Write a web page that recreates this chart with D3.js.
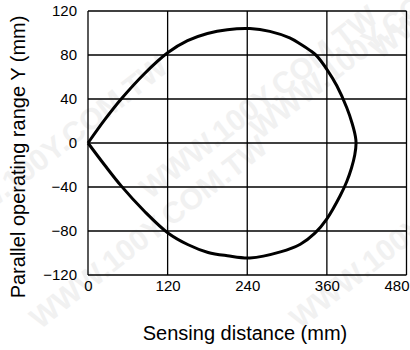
<!DOCTYPE html>
<html>
<head>
<meta charset="utf-8">
<script src="https://cdn.jsdelivr.net/npm/d3@7"></script>
<style>
  html, body { margin: 0; padding: 0; background: #fff; }
  svg { display: block; }
  text { font-family: "Liberation Sans", Arial, Helvetica, sans-serif; }
</style>
</head>
<body>
<svg id="chart" width="410" height="350"></svg>
<script>
// Sensing area boundary: upper half (distance mm, lateral Y mm)
const upperX = [0, 25, 50, 85, 120, 150, 180, 210, 244, 274, 304, 320, 335, 345, 360, 375, 390, 398, 403, 404];
const upperY = [0, 21, 40, 63, 82, 93, 99.5, 103, 104, 101.5, 95.5, 90, 84, 79, 67, 52, 32, 18, 6, 0];
// lower half, continuing from the far tip back to the origin
const lowerX = [404, 402, 397, 390, 380, 360, 342, 320, 290, 244, 210, 181, 151, 121, 85, 50, 25, 0];
const lowerY = [0, -11, -23, -35, -48, -69, -82, -92, -99, -104.5, -102.5, -99.5, -92.5, -82, -62, -39, -20, 0];

const xTicks = [0, 120, 240, 360, 480];
const yTicks = [-120, -80, -40, 0, 40, 80, 120];

const xTitle = "Sensing distance (mm)";
const yTitle = "Parallel operating range Y (mm)";
const mark = "WWW.100Y.COM.TW";

const svg = d3.select("#chart");
const plot = { left: 88, right: 406.5, top: 11, bottom: 275 };

const x = d3.scaleLinear().domain([0, 480]).range([plot.left, plot.right]);
const y = d3.scaleLinear().domain([-120, 120]).range([plot.bottom, plot.top]);

// faint diagonal site mark in the background
const wm = svg.append("g").attr("fill", "#f1f1f1")
  .attr("font-family", "'Liberation Serif', 'Times New Roman', serif")
  .attr("font-weight", "bold").attr("font-size", 30);
const wmSpots = [[-60, 250], [40, 330], [150, 200], [260, 140], [300, 330], [380, 60], [420, 250]];
wmSpots.forEach(([cx, cy]) => {
  wm.append("text")
    .attr("transform", `translate(${cx},${cy}) rotate(-38)`)
    .text(mark);
});

// grid lines
const grid = svg.append("g").attr("stroke", "#000").attr("stroke-width", 1.3);
grid.selectAll("line.v").data(xTicks).join("line")
  .attr("x1", d => x(d)).attr("x2", d => x(d))
  .attr("y1", plot.top).attr("y2", plot.bottom);
grid.selectAll("line.h").data(yTicks).join("line")
  .attr("x1", plot.left).attr("x2", plot.right)
  .attr("y1", d => y(d)).attr("y2", d => y(d));

// axes (labels only, lines come from the grid)
const xAxis = d3.axisBottom(x).tickValues(xTicks).tickSize(0).tickPadding(5);
const yAxis = d3.axisLeft(y).tickValues(yTicks).tickSize(0).tickPadding(11);

const gx = svg.append("g").attr("transform", `translate(0,${plot.bottom})`).call(xAxis);
const gy = svg.append("g").attr("transform", `translate(${plot.left},0)`).call(yAxis);
[gx, gy].forEach(g => {
  g.select(".domain").remove();
  g.selectAll("text").attr("font-family", "'Liberation Sans', Arial, sans-serif")
    .attr("font-size", 15).attr("fill", "#000");
});
// last x label sits against the right edge
gx.selectAll(".tick").filter(d => d === 480).select("text")
  .attr("text-anchor", "end").attr("x", 409 - x(480));

// boundary curve
const pts = upperX.map((d, i) => [d, upperY[i]])
  .concat(lowerX.map((d, i) => [d, lowerY[i]]).slice(1));
const line = d3.line().x(d => x(d[0])).y(d => y(d[1])).curve(d3.curveCatmullRom.alpha(0.5));
svg.append("path").attr("d", line(pts)).attr("fill", "none")
  .attr("stroke", "#000").attr("stroke-width", 3).attr("stroke-linejoin", "round");

// titles
svg.append("text").attr("x", 245).attr("y", 340).attr("text-anchor", "middle")
  .attr("font-size", 20).attr("fill", "#000").text(xTitle);
svg.append("text").attr("transform", `translate(25,157) rotate(-90)`)
  .attr("text-anchor", "middle").attr("font-size", 20).attr("fill", "#000").text(yTitle);
</script>
</body>
</html>
